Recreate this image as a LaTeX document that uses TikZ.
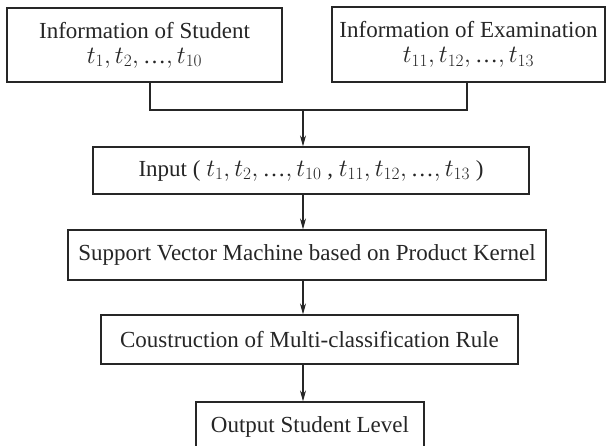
\documentclass[tikz,border=0pt]{standalone}
\usepackage{fontspec}
\setmainfont{Liberation Serif}
\usetikzlibrary{arrows.meta}
% tight ellipsis taken from the text font
\newcommand{\tdots}{\mbox{…}}
\begin{document}
\begin{tikzpicture}[x=1pt,y=-1pt,
  box/.style={draw=black!85, line width=1.2pt, rectangle, inner sep=0pt,
    align=center, font=\fontsize{23}{27}\selectfont, text=black!85},
  flow/.style={draw=black!85, line width=1.2pt,
    -{Stealth[length=11pt,width=6pt]}},
  link/.style={draw=black!85, line width=1.2pt}]
\useasboundingbox (0,0) rectangle (606,446);
\clip (0,0) rectangle (606,446);
\fill[white] (0,0) rectangle (606,446);

% source boxes
\node[box, minimum width=275pt, minimum height=74pt] (stu) at (144.5,45)
  {Information of Student\\[-2pt] $t_1, t_2, \tdots, t_{10}$};
\node[box, minimum width=273pt, minimum height=75pt] (exa) at (468.5,44.5)
  {Information of Examination\\[-2pt] $t_{11}, t_{12}, \tdots, t_{13}$};

% processing chain
\node[box, minimum width=436pt, minimum height=47pt] (inp) at (311,170.5)
  {Input ( $t_1, t_2, \tdots, t_{10}$ , $t_{11}, t_{12}, \tdots, t_{13}$ )};
\node[box, minimum width=478pt, minimum height=50pt] (svm) at (307,255)
  {Support Vector Machine based on Product Kernel};
\node[box, minimum width=417pt, minimum height=49pt] (rule) at (309.5,339.5)
  {Coustruction of Multi-classification Rule};
\node[box, minimum width=228pt, minimum height=50pt] (out) at (310,427)
  {Output Student Level};

% junction points of the merging connector
\coordinate (ja) at (150,110);
\coordinate (jb) at (467,110);
\coordinate (jm) at (303,110);

\draw[link] (stu.south -| ja) -- (ja) -- (jb) -- (exa.south -| jb);
\draw[flow] (jm) -- (inp.north -| jm);
\draw[flow] (inp.south -| jm) -- (svm.north -| jm);
\draw[flow] (svm.south -| jm) -- (rule.north -| jm);
\draw[flow] (rule.south -| jm) -- (out.north -| jm);
\end{tikzpicture}
\end{document}
